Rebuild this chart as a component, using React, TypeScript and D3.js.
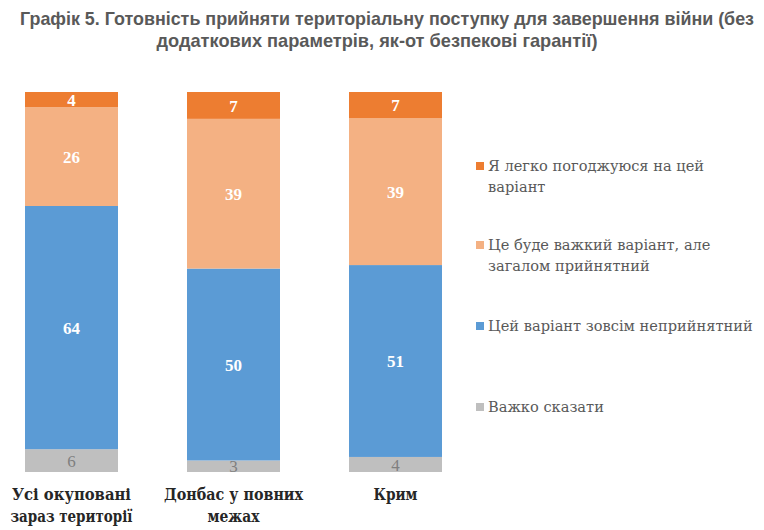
import { useEffect, useRef } from "react";
import * as d3 from "d3";

const categories = ["Усі окуповані зараз території", "Донбас у повних межах", "Крим"];
const categoryLines = [["Усі окуповані", "зараз території"], ["Донбас у повних", "межах"], ["Крим"]];
const hardToSay = [6, 3, 4];
const unacceptable = [64, 50, 51];
const hardButOk = [26, 39, 39];
const easyAgree = [4, 7, 7];
const colors = ["#BFBFBF", "#5B9BD5", "#F4B183", "#ED7D31"];
const legendLines = [
  ["Я легко погоджуюся на цей", "варіант"],
  ["Це буде важкий варіант, але", "загалом прийнятний"],
  ["Цей варіант зовсім неприйнятний"],
  ["Важко сказати"],
];
const legendColors = ["#ED7D31", "#F4B183", "#5B9BD5", "#BFBFBF"];

const width = 764;
const height = 530;
const serif = "'Liberation Serif', 'DejaVu Serif', serif";
const cyrSerif = "'DejaVu Serif', serif";

export default function App() {
  const svgRef = useRef<SVGSVGElement>(null);

  useEffect(() => {
    if (!svgRef.current) return;
    const svg = d3.select(svgRef.current);
    svg.selectAll("*").remove();

    const rows = categories.map((c, i) => ({
      cat: c,
      s0: hardToSay[i],
      s1: unacceptable[i],
      s2: hardButOk[i],
      s3: easyAgree[i],
    }));
    const keys = ["s0", "s1", "s2", "s3"];
    const stacked = d3
      .stack<any>()
      .keys(keys)
      .offset(d3.stackOffsetExpand)(rows);

    const x = d3.scaleBand().domain(categories).range([25, 442]).paddingInner(0.426).paddingOuter(0);
    const y = d3.scaleLinear().domain([0, 1]).range([472, 92]);

    const g = svg.append("g");
    stacked.forEach((layer, li) => {
      const lg = g.append("g");
      lg.selectAll("rect")
        .data(layer)
        .join("rect")
        .attr("x", (d: any) => x(d.data.cat)!)
        .attr("width", x.bandwidth())
        .attr("y", (d) => y(d[1]))
        .attr("height", (d) => y(d[0]) - y(d[1]))
        .attr("fill", colors[li]);
      lg.selectAll("text")
        .data(layer)
        .join("text")
        .attr("x", (d: any) => x(d.data.cat)! + x.bandwidth() / 2)
        .attr("y", (d) => (y(d[0]) + y(d[1])) / 2)
        .attr("dy", "0.36em")
        .attr("text-anchor", "middle")
        .attr("font-family", serif)
        .attr("font-size", 17)
        .attr("font-weight", li === 0 ? "normal" : "bold")
        .attr("fill", li === 0 ? "#7F7F7F" : "#FFFFFF")
        .text((d: any) => d.data[keys[li]]);
    });

    // category labels
    const catLens = [[119, 122], [139, 52], [44]];
    categories.forEach((c, i) => {
      const cx = x(c)! + x.bandwidth() / 2;
      categoryLines[i].forEach((line, j) => {
        svg
          .append("text")
          .attr("x", cx)
          .attr("y", 500 + j * 22)
          .attr("text-anchor", "middle")
          .attr("font-family", cyrSerif)
          .attr("font-size", 16)
          .attr("font-weight", "bold")
          .attr("fill", "#262626")
          .attr("textLength", catLens[i][j])
          .attr("lengthAdjust", "spacingAndGlyphs")
          .text(line);
      });
    });

    // legend
    const legendY = [171, 250, 331, 412];
    legendLines.forEach((lines, i) => {
      svg
        .append("rect")
        .attr("x", 476)
        .attr("y", legendY[i] - 9)
        .attr("width", 8)
        .attr("height", 8)
        .attr("fill", legendColors[i]);
      const t = svg
        .append("text")
        .attr("x", 488)
        .attr("y", legendY[i])
        .attr("font-family", cyrSerif)
        .attr("font-size", 14.6)
        .attr("fill", "#595959");
      lines.forEach((line, j) => {
        t.append("tspan")
          .attr("x", 488)
          .attr("dy", j === 0 ? 0 : 21)
          .text(line);
      });
    });

    // title
    const titleLines = [
      "Графік 5. Готовність прийняти територіальну поступку для завершення війни (без",
      "додаткових параметрів, як-от безпекові гарантії)",
    ];
    const titleLens = [734, 441];
    const titleX = [387, 377];
    titleLines.forEach((line, i) => {
      svg
        .append("text")
        .attr("x", titleX[i])
        .attr("y", 25 + i * 22)
        .attr("text-anchor", "middle")
        .attr("font-family", "'Liberation Sans Narrow', 'Liberation Sans', Arial, sans-serif")
        .attr("font-size", 19)
        .attr("font-weight", "bold")
        .attr("fill", "#595959")
        .attr("textLength", titleLens[i])
        .attr("lengthAdjust", "spacingAndGlyphs")
        .text(line);
    });
  }, []);

  return (
    <svg
      ref={svgRef}
      width={width}
      height={height}
      style={{ position: "absolute", left: 0, top: 0, background: "#fff" }}
    />
  );
}
